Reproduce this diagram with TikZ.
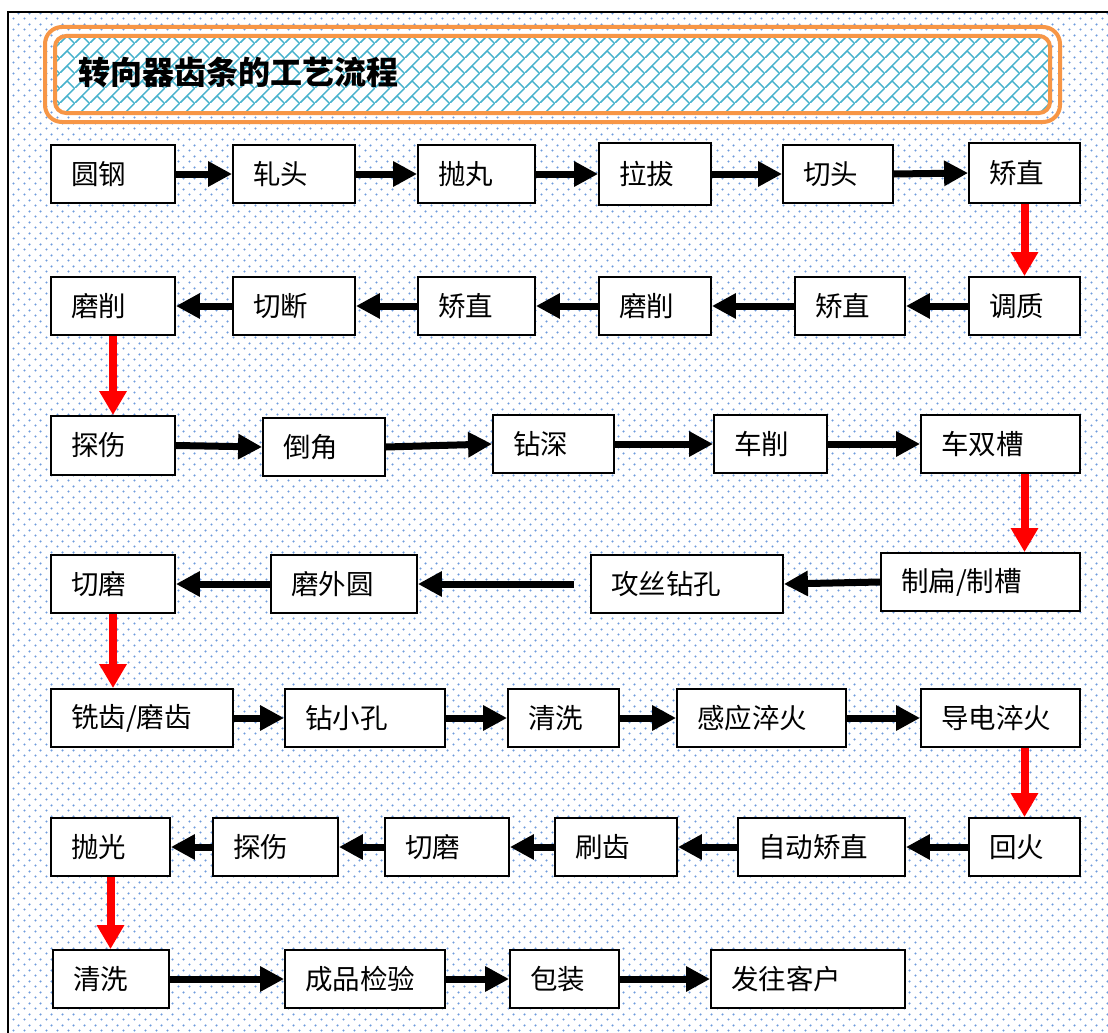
\documentclass[tikz,border=0pt]{standalone}
\usepackage{fontspec}
\newfontfamily\cjk{Noto Sans CJK SC}
\usetikzlibrary{arrows.meta,patterns}
\definecolor{dotblue}{RGB}{110,155,220}
\definecolor{hatchcyan}{RGB}{70,178,204}
\definecolor{titleorange}{RGB}{247,150,70}
\pgfdeclarepatternformonly{mybgdots}{\pgfpoint{0pt}{0pt}}{\pgfpoint{11pt}{11pt}}{\pgfpoint{11pt}{11pt}}{%
 \pgfpathcircle{\pgfpoint{2.75pt}{2.75pt}}{1.25pt}%
 \pgfpathcircle{\pgfpoint{8.25pt}{8.25pt}}{1.25pt}%
 \pgfusepath{fill}}
\pgfdeclarepatternformonly{mytitlebricks}{\pgfpoint{0pt}{0pt}}{\pgfpoint{15pt}{15pt}}{\pgfpoint{15pt}{15pt}}{%
 \pgfsetlinewidth{1.6pt}%
 \pgfpathmoveto{\pgfpoint{-2pt}{-2pt}}\pgfpathlineto{\pgfpoint{17pt}{17pt}}%
 \pgfpathmoveto{\pgfpoint{7.5pt}{7.5pt}}\pgfpathlineto{\pgfpoint{16pt}{-1pt}}%
 \pgfusepath{stroke}}
\tikzset{
 box/.style={draw=black, line width=1.8pt, fill=white, inner xsep=20pt, inner ysep=0pt, align=left, font=\cjk\fontsize{27.5}{31}\selectfont},
 blk/.style={draw=black, line width=7pt, -{Triangle[length=24pt,width=24pt]}},
 redar/.style={draw=red, line width=8pt, -{Triangle[length=24pt,width=26pt]}, red},
 titletext/.style={font=\cjk\bfseries\fontsize{32}{36}\selectfont, anchor=west, inner sep=0pt}
}
\newcommand\bx[6]{%
 \pgfmathsetmacro\bxw{#4-#2-40}%
 \pgfmathsetmacro\bxh{#5-#3}%
 \node[box,text width=\bxw pt,minimum height=\bxh pt] (#1) at ({(#2+#4)/2},{(#3+#5)/2}) {#6};}
\begin{document}
\begin{tikzpicture}[x=1pt,y=-1pt]
\useasboundingbox (0,0) rectangle (1108,1033);
\fill[white] (0,0) rectangle (1108,1033);
\fill[pattern=mybgdots, pattern color=dotblue] (8,12) rectangle (1108,1033);
\draw[line width=1.5pt] (8,1033) -- (8,12) -- (1108,12);
% title
\draw[titleorange, line width=4pt, rounded corners=17pt] (45,27) rectangle (1060,122);
\fill[white, rounded corners=11pt] (55,36) rectangle (1050,113);
\fill[pattern=mytitlebricks, pattern color=hatchcyan, rounded corners=11pt] (55,36) rectangle (1050,113);
\draw[titleorange, line width=4pt, rounded corners=11pt] (55,36) rectangle (1050,113);
\node[titletext] (title) at (78,72) {转向器齿条的工艺流程};
% row 1
\bx{a1}{51}{145}{175}{203}{圆钢}
\bx{a2}{233}{145}{355}{203}{轧头}
\bx{a3}{418}{145}{535}{203}{抛丸}
\bx{a4}{599}{143}{711}{205}{拉拔}
\bx{a5}{783}{145}{893}{203}{切头}
\bx{a6}{969}{143}{1080}{203}{矫直}
% row 2
\bx{b1}{51}{277}{175}{335}{磨削}
\bx{b2}{233}{277}{355}{335}{切断}
\bx{b3}{418}{277}{535}{335}{矫直}
\bx{b4}{599}{277}{711}{335}{磨削}
\bx{b5}{795}{277}{905}{335}{矫直}
\bx{b6}{969}{277}{1080}{335}{调质}
% row 3
\bx{c1}{51}{416}{175}{475}{探伤}
\bx{c2}{263}{418}{385}{476}{倒角}
\bx{c3}{493}{415}{614}{473}{钻深}
\bx{c4}{714}{415}{827}{473}{车削}
\bx{c5}{921}{415}{1080}{473}{车双槽}
% row 4
\bx{d1}{51}{555}{175}{613}{切磨}
\bx{d2}{271}{555}{417}{613}{磨外圆}
\bx{d3}{591}{555}{783}{613}{攻丝钻孔}
\bx{d4}{881}{553}{1080}{611}{制扁/制槽}
% row 5
\bx{e1}{51}{689}{233}{747}{铣齿/磨齿}
\bx{e2}{285}{689}{445}{747}{钻小孔}
\bx{e3}{508}{689}{619}{747}{清洗}
\bx{e4}{677}{689}{846}{747}{感应淬火}
\bx{e5}{921}{689}{1080}{747}{导电淬火}
% row 6
\bx{f1}{51}{818}{170}{876}{抛光}
\bx{f2}{213}{818}{338}{876}{探伤}
\bx{f3}{385}{818}{509}{876}{切磨}
\bx{f4}{555}{818}{677}{876}{刷齿}
\bx{f5}{738}{818}{905}{876}{自动矫直}
\bx{f6}{969}{818}{1080}{876}{回火}
% row 7
\bx{g1}{53}{950}{169}{1008}{清洗}
\bx{g2}{285}{950}{445}{1008}{成品检验}
\bx{g3}{510}{950}{619}{1008}{包装}
\bx{g4}{711}{950}{905}{1008}{发往客户}
% arrows row 1
\draw[blk] (a1.east) -- (a2.west);
\draw[blk] (a2.east) -- (a3.west);
\draw[blk] (a3.east) -- (a4.west);
\draw[blk] (a4.east) -- (a5.west);
\draw[blk] (a5.east) -- (a6.west);
\draw[redar] (a6.south) -- (b6.north);
% row 2
\draw[blk] (b6.west) -- (b5.east);
\draw[blk] (b5.west) -- (b4.east);
\draw[blk] (b4.west) -- (b3.east);
\draw[blk] (b3.west) -- (b2.east);
\draw[blk] (b2.west) -- (b1.east);
\draw[redar] (b1.south) -- (c1.north);
% row 3
\draw[blk] (c1.east) -- (c2.west);
\draw[blk] (c2.east) -- (c3.west);
\draw[blk] (c3.east) -- (c4.west);
\draw[blk] (c4.east) -- (c5.west);
\draw[redar] (c5.south -| a6.south) -- (d4.north -| a6.south);
% row 4
\draw[blk] (d4.west) -- (d3.east);
\draw[blk, shorten <=16pt] (d3.west) -- (d2.east);
\draw[blk] (d2.west) -- (d1.east);
\draw[redar] (d1.south) -- (e1.north -| d1.south);
% row 5
\draw[blk] (e1.east) -- (e2.west);
\draw[blk] (e2.east) -- (e3.west);
\draw[blk] (e3.east) -- (e4.west);
\draw[blk] (e4.east) -- (e5.west);
\draw[redar] (e5.south -| f6.north) -- (f6.north);
% row 6
\draw[blk] (f6.west) -- (f5.east);
\draw[blk] (f5.west) -- (f4.east);
\draw[blk] (f4.west) -- (f3.east);
\draw[blk] (f3.west) -- (f2.east);
\draw[blk] (f2.west) -- (f1.east);
\draw[redar] (f1.south) -- (g1.north -| f1.south);
% row 7
\draw[blk] (g1.east) -- (g2.west);
\draw[blk] (g2.east) -- (g3.west);
\draw[blk] (g3.east) -- (g4.west);
\end{tikzpicture}
\end{document}
